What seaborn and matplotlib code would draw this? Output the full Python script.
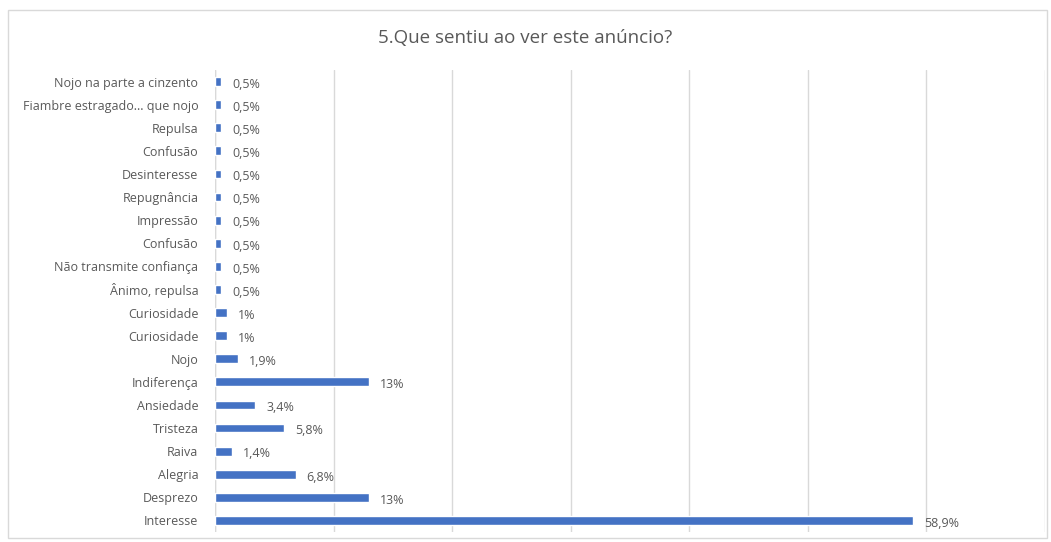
import matplotlib
matplotlib.use("Agg")
import matplotlib.pyplot as plt
import seaborn as sns
import pandas as pd
from matplotlib.patches import Rectangle

categories = [
    "Nojo na parte a cinzento", "Fiambre estragado... que nojo", "Repulsa",
    "Confusão", "Desinteresse", "Repugnância", "Impressão", "Confusão",
    "Não transmite confiança", "Ânimo, repulsa", "Curiosidade", "Curiosidade",
    "Nojo", "Indiferença", "Ansiedade", "Tristeza", "Raiva", "Alegria",
    "Desprezo", "Interesse",
]
values = [0.5, 0.5, 0.5, 0.5, 0.5, 0.5, 0.5, 0.5, 0.5, 0.5,
          1, 1, 1.9, 13, 3.4, 5.8, 1.4, 6.8, 13, 58.9]
title = "5.Que sentiu ao ver este anúncio?"

df = pd.DataFrame({"key": [str(i) for i in range(len(categories))],
                   "value": values})

sns.set_theme(style="white")
plt.rcParams["font.family"] = ["Open Sans", "DejaVu Sans"]
grey = "#595959"

fig = plt.figure(figsize=(10.51, 5.42), dpi=100)
ax = fig.add_axes([215 / 1051, 1 - 532 / 542, (1045 - 215) / 1051, (532 - 70) / 542])

sns.barplot(data=df, x="value", y="key", orient="h", color="#4472C4",
            width=0.38, saturation=1, ax=ax, zorder=3)

ax.set_xlim(0, 70)
ax.set_ylim(len(categories) - 0.5, -0.5)
ax.set_xticks(range(0, 71, 10))
ax.xaxis.grid(True, color="#D9D9D9", linewidth=1, zorder=0)
ax.tick_params(axis="x", bottom=False, labelbottom=False)
ax.tick_params(axis="y", left=False, pad=6, labelsize=9, labelcolor=grey)
ax.set_yticks(range(len(categories)))
ax.set_yticklabels(categories)
ax.set_xlabel("")
ax.set_ylabel("")
for s in ax.spines.values():
    s.set_visible(False)
ax.axvline(0, color="#D9D9D9", linewidth=1, zorder=1)

def fmt(v):
    s = f"{v:.1f}".replace(".", ",")
    if s.endswith(",0"):
        s = s[:-2]
    return s + "%"

for i, v in enumerate(values):
    ax.annotate(fmt(v), xy=(v, i), xytext=(8, -2), textcoords="offset points",
                va="center", ha="left", fontsize=9, color=grey)

fig.text(0.5, 1 - 38 / 542, title, ha="center", va="center", fontsize=13.5, color=grey)
fig.patches.append(Rectangle((8 / 1051, 1 - 538 / 542), (1047 - 8) / 1051, (538 - 10) / 542,
                             transform=fig.transFigure, fill=False,
                             edgecolor="#D9D9D9", linewidth=1))

fig.savefig("out.png", dpi=100)
